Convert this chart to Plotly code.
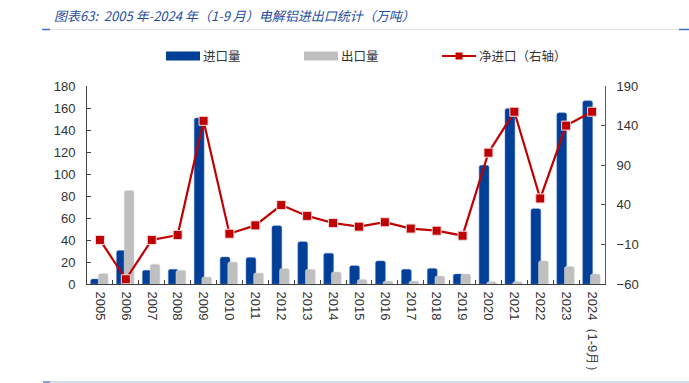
import plotly.graph_objects as go

W, H = 689, 383
L, R, T, B = 87, 605, 86, 284

years = ["2005", "2006", "2007", "2008", "2009", "2010", "2011", "2012", "2013", "2014",
         "2015", "2016", "2017", "2018", "2019", "2020", "2021", "2022", "2023", "2024（1-9月）"]
imports = [4.5, 30.5, 12.5, 13.3, 151, 24.5, 24, 53, 38.5, 28,
           16.7, 21, 13.3, 14.2, 9, 108, 159.5, 68.5, 155.7, 166.5]
exports = [9.5, 85, 18, 12.4, 6.4, 20, 10, 14, 13.3, 11,
           4, 2.7, 2.7, 7.3, 9, 2, 2, 21, 16, 9]
net_imports = [-4.4, -54, -4.4, 1.9, 146, 3.5, 14, 39.7, 26, 17,
               12.4, 18, 10, 7.3, 1, 105.8, 157.5, 48, 140, 157.5]

left_ticks = list(range(0, 181, 20))
right_ticks = list(range(-60, 191, 50))

BLUE = "#003f98"
GRAY = "#bfbfbf"
RED = "#c00000"
TXT = "#333333"
FONT = "Liberation Sans, Arial, sans-serif"
CJK = "Noto Sans CJK SC, sans-serif"

fig = go.Figure()
fig.add_trace(go.Bar(x=years, y=imports, name="进口量", marker=dict(color=BLUE, cornerradius=2,
                     line=dict(width=0.5, color="#5a7fc0")), width=0.38, offset=-0.36))
fig.add_trace(go.Bar(x=years, y=exports, name="出口量", marker=dict(color=GRAY, cornerradius=2,
                     line=dict(width=0.5, color="#d8d8d8")), width=0.38, offset=-0.065))
fig.add_trace(go.Scatter(x=years, y=net_imports, name="净进口（右轴）", yaxis="y2", mode="lines+markers",
                         line=dict(color=RED, width=2.2),
                         marker=dict(symbol="square", size=9, color=RED, line=dict(color="#f2dcdc", width=1))))

def px(x):
    return (x - L) / (R - L)

def py(y):
    return (B - y) / (B - T)

shapes = []
annotations = []
# title separator lines
shapes.append(dict(type="line", xref="paper", yref="paper", x0=px(42), x1=px(689), y0=py(29.5), y1=py(29.5),
                   line=dict(color="#e3e3e3", width=1)))
shapes.append(dict(type="line", xref="paper", yref="paper", x0=px(42), x1=px(50), y0=py(29.5), y1=py(29.5),
                   line=dict(color="#3f6fc0", width=1.5)))
shapes.append(dict(type="line", xref="paper", yref="paper", x0=px(679), x1=px(689), y0=py(29.5), y1=py(29.5),
                   line=dict(color="#3f6fc0", width=1.5)))
shapes.append(dict(type="line", xref="paper", yref="paper", x0=px(43), x1=px(689), y0=py(382), y1=py(382),
                   line=dict(color="#a7b9dc", width=1.2)))
shapes.append(dict(type="line", xref="paper", yref="paper", x0=px(43), x1=px(50), y0=py(382), y1=py(382),
                   line=dict(color="#6f8fcc", width=1.5)))

# legend
ly = 56
shapes.append(dict(type="rect", xref="paper", yref="paper", x0=px(166), x1=px(200), y0=py(60.5), y1=py(51.5),
                   fillcolor=BLUE, line=dict(width=0)))
shapes.append(dict(type="rect", xref="paper", yref="paper", x0=px(304), x1=px(338), y0=py(60.5), y1=py(51.5),
                   fillcolor=GRAY, line=dict(width=0)))
shapes.append(dict(type="line", xref="paper", yref="paper", x0=px(442), x1=px(476), y0=py(ly), y1=py(ly),
                   line=dict(color=RED, width=2.2)))
shapes.append(dict(type="rect", xref="paper", yref="paper", x0=px(455.5), x1=px(462.5), y0=py(59.5), y1=py(52.5),
                   fillcolor=RED, line=dict(width=0)))
for xx, name in [(201, "进口量"), (339, "出口量"), (477, "净进口（右轴）")]:
    annotations.append(dict(text=name, xref="paper", yref="paper", x=px(xx), y=py(ly), xanchor="left",
                            yanchor="middle", showarrow=False, font=dict(family=CJK, size=12.5, color=TXT)))

annotations.append(dict(text="<i>图表63:  2005 年-2024 年（1-9 月）电解铝进出口统计（万吨）</i>", xref="paper", yref="paper",
                        x=px(52), y=py(16), xanchor="left", yanchor="middle", showarrow=False,
                        font=dict(family=CJK, size=13, color="#1f4e9e")))

fig.update_layout(
    width=W, height=H, autosize=False,
    margin=dict(l=L, r=W - R, t=T, b=H - B, pad=0, autoexpand=False),
    paper_bgcolor="white", plot_bgcolor="white",
    barmode="overlay", showlegend=False,
    shapes=shapes, annotations=annotations,
    xaxis=dict(type="category", range=[-0.5, len(years) - 0.5], showline=True, linecolor="#404040", linewidth=1,
               ticks="inside", tickson="boundaries", ticklen=4, tickcolor="#404040", tickangle=90,
               tickfont=dict(family=FONT, size=13, color=TXT), showgrid=False, ticklabelstandoff=4,
               automargin=False),
    yaxis=dict(range=[0, 180], tickvals=left_ticks, showline=True, linecolor="#404040", linewidth=1,
               ticks="inside", ticklen=4, tickcolor="#404040", showgrid=False, zeroline=False,
               tickfont=dict(family=FONT, size=13, color=TXT), ticklabelstandoff=8, automargin=False),
    yaxis2=dict(range=[-60, 190], tickvals=right_ticks, overlaying="y", side="right", showline=True,
                linecolor="#595959", linewidth=1, ticks="inside", ticklen=4, tickcolor="#595959",
                showgrid=False, zeroline=False, tickfont=dict(family=FONT, size=13, color=TXT),
                ticklabelstandoff=8, automargin=False),
)

fig.write_html("out.html", config={"displayModeBar": False},
               post_script="document.body.style.margin='0';document.body.style.overflow='hidden';")
